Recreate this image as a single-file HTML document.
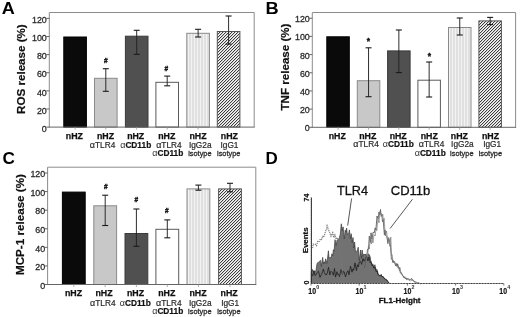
<!DOCTYPE html>
<html><head><meta charset="utf-8"><style>
html,body{margin:0;padding:0;background:#fff;}
svg{display:block;font-family:"Liberation Sans", sans-serif;will-change:transform;}
</style></head><body>
<svg width="520" height="317" viewBox="0 0 520 317">
<rect width="520" height="317" fill="#fff"/>
<defs>
<pattern id="vstripe" patternUnits="userSpaceOnUse" x="0" y="0" width="3" height="3"><rect width="3" height="3" fill="#e0e0e0"/><rect x="2" width="1" height="3" fill="#f3f3f3"/></pattern>
<pattern id="hatch" patternUnits="userSpaceOnUse" x="0" y="0" width="3" height="3" shape-rendering="crispEdges"><rect width="3" height="3" fill="#f6f6f6"/><rect x="0" y="2" width="1" height="1" fill="#3c3c3c"/><rect x="1" y="1" width="1" height="1" fill="#3c3c3c"/><rect x="2" y="0" width="1" height="1" fill="#3c3c3c"/><rect x="0" y="0" width="1" height="1" fill="#d2d2d2"/><rect x="1" y="2" width="1" height="1" fill="#d2d2d2"/><rect x="2" y="1" width="1" height="1" fill="#d2d2d2"/></pattern>
</defs>
<path d="M49.30,127.10 V12.50 H254.20 V127.10" fill="none" stroke="#8c8c8c" stroke-width="1"/>
<rect x="63.80" y="37.00" width="22.60" height="90.10" fill="#0a0a0a" stroke="#000" stroke-width="1"/>
<rect x="94.50" y="78.30" width="22.60" height="48.80" fill="#c8c8c8" stroke="#8a8a8a" stroke-width="1"/>
<rect x="125.40" y="36.20" width="22.60" height="90.90" fill="#505050" stroke="#3a3a3a" stroke-width="1"/>
<rect x="155.90" y="82.30" width="22.60" height="44.80" fill="#ffffff" stroke="#5a5a5a" stroke-width="1"/>
<rect x="186.80" y="33.30" width="22.60" height="93.80" fill="url(#vstripe)" stroke="#8a8a8a" stroke-width="1"/>
<rect x="217.30" y="31.50" width="22.60" height="95.60" fill="url(#hatch)" stroke="#555" stroke-width="1"/>
<line x1="105.80" y1="68.70" x2="105.80" y2="91.30" stroke="#222" stroke-width="0.95" />
<line x1="102.80" y1="68.70" x2="108.80" y2="68.70" stroke="#1a1a1a" stroke-width="1.1" />
<line x1="102.80" y1="91.30" x2="108.80" y2="91.30" stroke="#1a1a1a" stroke-width="1.1" />
<line x1="136.70" y1="30.30" x2="136.70" y2="54.30" stroke="#222" stroke-width="0.95" />
<line x1="133.70" y1="30.30" x2="139.70" y2="30.30" stroke="#1a1a1a" stroke-width="1.1" />
<line x1="133.70" y1="54.30" x2="139.70" y2="54.30" stroke="#1a1a1a" stroke-width="1.1" />
<line x1="167.20" y1="76.10" x2="167.20" y2="85.80" stroke="#222" stroke-width="0.95" />
<line x1="164.20" y1="76.10" x2="170.20" y2="76.10" stroke="#1a1a1a" stroke-width="1.1" />
<line x1="164.20" y1="85.80" x2="170.20" y2="85.80" stroke="#1a1a1a" stroke-width="1.1" />
<line x1="198.10" y1="29.30" x2="198.10" y2="37.00" stroke="#222" stroke-width="0.95" />
<line x1="195.10" y1="29.30" x2="201.10" y2="29.30" stroke="#1a1a1a" stroke-width="1.1" />
<line x1="195.10" y1="37.00" x2="201.10" y2="37.00" stroke="#1a1a1a" stroke-width="1.1" />
<line x1="228.60" y1="16.00" x2="228.60" y2="44.10" stroke="#222" stroke-width="0.95" />
<line x1="225.60" y1="16.00" x2="231.60" y2="16.00" stroke="#1a1a1a" stroke-width="1.1" />
<line x1="225.60" y1="44.10" x2="231.60" y2="44.10" stroke="#1a1a1a" stroke-width="1.1" />
<line x1="48.80" y1="127.10" x2="254.70" y2="127.10" stroke="#666" stroke-width="1" />
<line x1="75.10" y1="127.10" x2="75.10" y2="129.60" stroke="#999" stroke-width="0.8" />
<line x1="105.80" y1="127.10" x2="105.80" y2="129.60" stroke="#999" stroke-width="0.8" />
<line x1="136.70" y1="127.10" x2="136.70" y2="129.60" stroke="#999" stroke-width="0.8" />
<line x1="167.20" y1="127.10" x2="167.20" y2="129.60" stroke="#999" stroke-width="0.8" />
<line x1="198.10" y1="127.10" x2="198.10" y2="129.60" stroke="#999" stroke-width="0.8" />
<line x1="228.60" y1="127.10" x2="228.60" y2="129.60" stroke="#999" stroke-width="0.8" />
<line x1="46.30" y1="127.10" x2="49.30" y2="127.10" stroke="#666" stroke-width="1" />
<text x="46.80" y="131.80" font-size="8.9" font-weight="normal" fill="#2a2a2a" text-anchor="end" stroke="#2a2a2a" stroke-width="0.28">0</text>
<line x1="46.30" y1="108.98" x2="49.30" y2="108.98" stroke="#666" stroke-width="1" />
<text x="46.80" y="113.68" font-size="8.9" font-weight="normal" fill="#2a2a2a" text-anchor="end" stroke="#2a2a2a" stroke-width="0.28">20</text>
<line x1="46.30" y1="90.86" x2="49.30" y2="90.86" stroke="#666" stroke-width="1" />
<text x="46.80" y="95.56" font-size="8.9" font-weight="normal" fill="#2a2a2a" text-anchor="end" stroke="#2a2a2a" stroke-width="0.28">40</text>
<line x1="46.30" y1="72.74" x2="49.30" y2="72.74" stroke="#666" stroke-width="1" />
<text x="46.80" y="77.44" font-size="8.9" font-weight="normal" fill="#2a2a2a" text-anchor="end" stroke="#2a2a2a" stroke-width="0.28">60</text>
<line x1="46.30" y1="54.62" x2="49.30" y2="54.62" stroke="#666" stroke-width="1" />
<text x="46.80" y="59.32" font-size="8.9" font-weight="normal" fill="#2a2a2a" text-anchor="end" stroke="#2a2a2a" stroke-width="0.28">80</text>
<line x1="46.30" y1="36.50" x2="49.30" y2="36.50" stroke="#666" stroke-width="1" />
<text x="46.80" y="41.20" font-size="8.9" font-weight="normal" fill="#2a2a2a" text-anchor="end" stroke="#2a2a2a" stroke-width="0.28">100</text>
<line x1="46.30" y1="18.38" x2="49.30" y2="18.38" stroke="#666" stroke-width="1" />
<text x="46.80" y="23.08" font-size="8.9" font-weight="normal" fill="#2a2a2a" text-anchor="end" stroke="#2a2a2a" stroke-width="0.28">120</text>
<text transform="translate(24.80,113.90) rotate(-90)" x="0" y="0" font-size="11.6" font-weight="bold" fill="#111" stroke="#111" stroke-width="0.2">ROS release (%)</text>
<text x="105.80" y="62.60" font-size="6.5" font-weight="bold" fill="#111" text-anchor="middle" stroke="#111" stroke-width="0.35">#</text>
<text x="166.40" y="70.80" font-size="6.5" font-weight="bold" fill="#111" text-anchor="middle" stroke="#111" stroke-width="0.35">#</text>
<path d="M312.30,127.30 V12.50 H515.60 V127.30" fill="none" stroke="#8c8c8c" stroke-width="1"/>
<rect x="326.80" y="36.80" width="22.50" height="90.50" fill="#0a0a0a" stroke="#000" stroke-width="1"/>
<rect x="357.30" y="80.70" width="22.50" height="46.60" fill="#c8c8c8" stroke="#8a8a8a" stroke-width="1"/>
<rect x="387.60" y="50.90" width="22.50" height="76.40" fill="#505050" stroke="#3a3a3a" stroke-width="1"/>
<rect x="417.90" y="80.20" width="22.50" height="47.10" fill="#ffffff" stroke="#5a5a5a" stroke-width="1"/>
<rect x="448.50" y="27.50" width="22.50" height="99.80" fill="url(#vstripe)" stroke="#8a8a8a" stroke-width="1"/>
<rect x="478.90" y="20.90" width="22.50" height="106.40" fill="url(#hatch)" stroke="#555" stroke-width="1"/>
<line x1="368.55" y1="47.80" x2="368.55" y2="96.70" stroke="#222" stroke-width="0.95" />
<line x1="365.55" y1="47.80" x2="371.55" y2="47.80" stroke="#1a1a1a" stroke-width="1.1" />
<line x1="365.55" y1="96.70" x2="371.55" y2="96.70" stroke="#1a1a1a" stroke-width="1.1" />
<line x1="398.85" y1="30.00" x2="398.85" y2="72.60" stroke="#222" stroke-width="0.95" />
<line x1="395.85" y1="30.00" x2="401.85" y2="30.00" stroke="#1a1a1a" stroke-width="1.1" />
<line x1="395.85" y1="72.60" x2="401.85" y2="72.60" stroke="#1a1a1a" stroke-width="1.1" />
<line x1="429.15" y1="62.00" x2="429.15" y2="97.00" stroke="#222" stroke-width="0.95" />
<line x1="426.15" y1="62.00" x2="432.15" y2="62.00" stroke="#1a1a1a" stroke-width="1.1" />
<line x1="426.15" y1="97.00" x2="432.15" y2="97.00" stroke="#1a1a1a" stroke-width="1.1" />
<line x1="459.75" y1="18.00" x2="459.75" y2="35.00" stroke="#222" stroke-width="0.95" />
<line x1="456.75" y1="18.00" x2="462.75" y2="18.00" stroke="#1a1a1a" stroke-width="1.1" />
<line x1="456.75" y1="35.00" x2="462.75" y2="35.00" stroke="#1a1a1a" stroke-width="1.1" />
<line x1="490.15" y1="17.40" x2="490.15" y2="24.60" stroke="#222" stroke-width="0.95" />
<line x1="487.15" y1="17.40" x2="493.15" y2="17.40" stroke="#1a1a1a" stroke-width="1.1" />
<line x1="487.15" y1="24.60" x2="493.15" y2="24.60" stroke="#1a1a1a" stroke-width="1.1" />
<line x1="311.80" y1="127.30" x2="516.10" y2="127.30" stroke="#666" stroke-width="1" />
<line x1="338.05" y1="127.30" x2="338.05" y2="129.80" stroke="#999" stroke-width="0.8" />
<line x1="368.55" y1="127.30" x2="368.55" y2="129.80" stroke="#999" stroke-width="0.8" />
<line x1="398.85" y1="127.30" x2="398.85" y2="129.80" stroke="#999" stroke-width="0.8" />
<line x1="429.15" y1="127.30" x2="429.15" y2="129.80" stroke="#999" stroke-width="0.8" />
<line x1="459.75" y1="127.30" x2="459.75" y2="129.80" stroke="#999" stroke-width="0.8" />
<line x1="490.15" y1="127.30" x2="490.15" y2="129.80" stroke="#999" stroke-width="0.8" />
<line x1="309.30" y1="127.30" x2="312.30" y2="127.30" stroke="#666" stroke-width="1" />
<text x="309.80" y="131.30" font-size="8.9" font-weight="normal" fill="#2a2a2a" text-anchor="end" stroke="#2a2a2a" stroke-width="0.28">0</text>
<line x1="309.30" y1="109.12" x2="312.30" y2="109.12" stroke="#666" stroke-width="1" />
<text x="309.80" y="113.12" font-size="8.9" font-weight="normal" fill="#2a2a2a" text-anchor="end" stroke="#2a2a2a" stroke-width="0.28">20</text>
<line x1="309.30" y1="90.94" x2="312.30" y2="90.94" stroke="#666" stroke-width="1" />
<text x="309.80" y="94.94" font-size="8.9" font-weight="normal" fill="#2a2a2a" text-anchor="end" stroke="#2a2a2a" stroke-width="0.28">40</text>
<line x1="309.30" y1="72.76" x2="312.30" y2="72.76" stroke="#666" stroke-width="1" />
<text x="309.80" y="76.76" font-size="8.9" font-weight="normal" fill="#2a2a2a" text-anchor="end" stroke="#2a2a2a" stroke-width="0.28">60</text>
<line x1="309.30" y1="54.58" x2="312.30" y2="54.58" stroke="#666" stroke-width="1" />
<text x="309.80" y="58.58" font-size="8.9" font-weight="normal" fill="#2a2a2a" text-anchor="end" stroke="#2a2a2a" stroke-width="0.28">80</text>
<line x1="309.30" y1="36.40" x2="312.30" y2="36.40" stroke="#666" stroke-width="1" />
<text x="309.80" y="40.40" font-size="8.9" font-weight="normal" fill="#2a2a2a" text-anchor="end" stroke="#2a2a2a" stroke-width="0.28">100</text>
<line x1="309.30" y1="18.22" x2="312.30" y2="18.22" stroke="#666" stroke-width="1" />
<text x="309.80" y="22.22" font-size="8.9" font-weight="normal" fill="#2a2a2a" text-anchor="end" stroke="#2a2a2a" stroke-width="0.28">120</text>
<text transform="translate(288.60,110.50) rotate(-90)" x="0" y="0" font-size="11.6" font-weight="bold" fill="#111" stroke="#111" stroke-width="0.2">TNF release (%)</text>
<text x="368.30" y="44.30" font-size="8.5" font-weight="bold" fill="#111" text-anchor="middle" stroke="#111" stroke-width="0.35">*</text>
<text x="429.50" y="59.30" font-size="8.5" font-weight="bold" fill="#111" text-anchor="middle" stroke="#111" stroke-width="0.35">*</text>
<path d="M47.60,284.50 V167.20 H255.80 V284.50" fill="none" stroke="#8c8c8c" stroke-width="1"/>
<rect x="62.40" y="192.10" width="22.80" height="92.40" fill="#0a0a0a" stroke="#000" stroke-width="1"/>
<rect x="93.80" y="205.80" width="22.80" height="78.70" fill="#c8c8c8" stroke="#8a8a8a" stroke-width="1"/>
<rect x="125.00" y="233.50" width="22.80" height="51.00" fill="#505050" stroke="#3a3a3a" stroke-width="1"/>
<rect x="155.90" y="229.30" width="22.80" height="55.20" fill="#ffffff" stroke="#5a5a5a" stroke-width="1"/>
<rect x="187.00" y="188.90" width="22.80" height="95.60" fill="url(#vstripe)" stroke="#8a8a8a" stroke-width="1"/>
<rect x="218.60" y="188.90" width="22.80" height="95.60" fill="url(#hatch)" stroke="#555" stroke-width="1"/>
<line x1="105.20" y1="195.20" x2="105.20" y2="225.50" stroke="#222" stroke-width="0.95" />
<line x1="102.20" y1="195.20" x2="108.20" y2="195.20" stroke="#1a1a1a" stroke-width="1.1" />
<line x1="102.20" y1="225.50" x2="108.20" y2="225.50" stroke="#1a1a1a" stroke-width="1.1" />
<line x1="136.40" y1="209.00" x2="136.40" y2="246.30" stroke="#222" stroke-width="0.95" />
<line x1="133.40" y1="209.00" x2="139.40" y2="209.00" stroke="#1a1a1a" stroke-width="1.1" />
<line x1="133.40" y1="246.30" x2="139.40" y2="246.30" stroke="#1a1a1a" stroke-width="1.1" />
<line x1="167.30" y1="219.90" x2="167.30" y2="237.80" stroke="#222" stroke-width="0.95" />
<line x1="164.30" y1="219.90" x2="170.30" y2="219.90" stroke="#1a1a1a" stroke-width="1.1" />
<line x1="164.30" y1="237.80" x2="170.30" y2="237.80" stroke="#1a1a1a" stroke-width="1.1" />
<line x1="198.40" y1="185.10" x2="198.40" y2="190.20" stroke="#222" stroke-width="0.95" />
<line x1="195.40" y1="185.10" x2="201.40" y2="185.10" stroke="#1a1a1a" stroke-width="1.1" />
<line x1="195.40" y1="190.20" x2="201.40" y2="190.20" stroke="#1a1a1a" stroke-width="1.1" />
<line x1="230.00" y1="183.30" x2="230.00" y2="191.80" stroke="#222" stroke-width="0.95" />
<line x1="227.00" y1="183.30" x2="233.00" y2="183.30" stroke="#1a1a1a" stroke-width="1.1" />
<line x1="227.00" y1="191.80" x2="233.00" y2="191.80" stroke="#1a1a1a" stroke-width="1.1" />
<line x1="47.10" y1="284.50" x2="256.30" y2="284.50" stroke="#666" stroke-width="1" />
<line x1="73.80" y1="284.50" x2="73.80" y2="287.00" stroke="#999" stroke-width="0.8" />
<line x1="105.20" y1="284.50" x2="105.20" y2="287.00" stroke="#999" stroke-width="0.8" />
<line x1="136.40" y1="284.50" x2="136.40" y2="287.00" stroke="#999" stroke-width="0.8" />
<line x1="167.30" y1="284.50" x2="167.30" y2="287.00" stroke="#999" stroke-width="0.8" />
<line x1="198.40" y1="284.50" x2="198.40" y2="287.00" stroke="#999" stroke-width="0.8" />
<line x1="230.00" y1="284.50" x2="230.00" y2="287.00" stroke="#999" stroke-width="0.8" />
<line x1="44.60" y1="284.50" x2="47.60" y2="284.50" stroke="#666" stroke-width="1" />
<text x="45.20" y="288.70" font-size="8.9" font-weight="normal" fill="#2a2a2a" text-anchor="end" stroke="#2a2a2a" stroke-width="0.28">0</text>
<line x1="44.60" y1="265.92" x2="47.60" y2="265.92" stroke="#666" stroke-width="1" />
<text x="45.20" y="270.12" font-size="8.9" font-weight="normal" fill="#2a2a2a" text-anchor="end" stroke="#2a2a2a" stroke-width="0.28">20</text>
<line x1="44.60" y1="247.34" x2="47.60" y2="247.34" stroke="#666" stroke-width="1" />
<text x="45.20" y="251.54" font-size="8.9" font-weight="normal" fill="#2a2a2a" text-anchor="end" stroke="#2a2a2a" stroke-width="0.28">40</text>
<line x1="44.60" y1="228.76" x2="47.60" y2="228.76" stroke="#666" stroke-width="1" />
<text x="45.20" y="232.96" font-size="8.9" font-weight="normal" fill="#2a2a2a" text-anchor="end" stroke="#2a2a2a" stroke-width="0.28">60</text>
<line x1="44.60" y1="210.18" x2="47.60" y2="210.18" stroke="#666" stroke-width="1" />
<text x="45.20" y="214.38" font-size="8.9" font-weight="normal" fill="#2a2a2a" text-anchor="end" stroke="#2a2a2a" stroke-width="0.28">80</text>
<line x1="44.60" y1="191.60" x2="47.60" y2="191.60" stroke="#666" stroke-width="1" />
<text x="45.20" y="195.80" font-size="8.9" font-weight="normal" fill="#2a2a2a" text-anchor="end" stroke="#2a2a2a" stroke-width="0.28">100</text>
<line x1="44.60" y1="173.02" x2="47.60" y2="173.02" stroke="#666" stroke-width="1" />
<text x="45.20" y="177.22" font-size="8.9" font-weight="normal" fill="#2a2a2a" text-anchor="end" stroke="#2a2a2a" stroke-width="0.28">120</text>
<text transform="translate(23.90,275.00) rotate(-90)" x="0" y="0" font-size="11.65" font-weight="bold" fill="#111" stroke="#111" stroke-width="0.2">MCP-1 release (%)</text>
<text x="105.70" y="189.20" font-size="6.5" font-weight="bold" fill="#111" text-anchor="middle" stroke="#111" stroke-width="0.35">#</text>
<text x="136.20" y="202.40" font-size="6.5" font-weight="bold" fill="#111" text-anchor="middle" stroke="#111" stroke-width="0.35">#</text>
<text x="166.90" y="213.00" font-size="6.5" font-weight="bold" fill="#111" text-anchor="middle" stroke="#111" stroke-width="0.35">#</text>
<text x="74.40" y="138.90" font-size="8.8" font-weight="bold" fill="#111" stroke="#111" stroke-width="0.25" text-anchor="middle">nHZ</text>
<text x="105.50" y="138.90" font-size="8.8" font-weight="bold" fill="#111" stroke="#111" stroke-width="0.25" text-anchor="middle">nHZ</text>
<text x="102.60" y="147.70" font-size="8.3" fill="#2a2a2a" stroke="#2a2a2a" stroke-width="0.2" text-anchor="middle"><tspan font-size="9" fill="#333">α</tspan>TLR4</text>
<text x="135.70" y="138.90" font-size="8.8" font-weight="bold" fill="#111" stroke="#111" stroke-width="0.25" text-anchor="middle">nHZ</text>
<text x="135.70" y="147.70" font-size="8.3" text-anchor="middle" stroke-width="0.2"><tspan font-size="9" fill="#333">α</tspan><tspan font-weight="bold" fill="#111" stroke="#111">CD11b</tspan></text>
<text x="166.80" y="138.90" font-size="8.8" font-weight="bold" fill="#111" stroke="#111" stroke-width="0.25" text-anchor="middle">nHZ</text>
<text x="168.90" y="147.70" font-size="8.3" fill="#2a2a2a" stroke="#2a2a2a" stroke-width="0.2" text-anchor="middle"><tspan font-size="9" fill="#333">α</tspan>TLR4</text>
<text x="167.80" y="155.60" font-size="8.3" text-anchor="middle" stroke-width="0.2"><tspan font-size="9" fill="#333">α</tspan><tspan font-weight="bold" fill="#111" stroke="#111">CD11b</tspan></text>
<text x="198.00" y="138.90" font-size="8.8" font-weight="bold" fill="#111" stroke="#111" stroke-width="0.25" text-anchor="middle">nHZ</text>
<text x="200.20" y="147.70" font-size="8.3" fill="#2a2a2a" stroke="#2a2a2a" stroke-width="0.2" text-anchor="middle">IgG2a</text>
<text textLength="23.4" lengthAdjust="spacingAndGlyphs" x="199.90" y="155.60" font-size="8.0" fill="#2a2a2a" stroke="#2a2a2a" stroke-width="0.3" text-anchor="middle">isotype</text>
<text x="229.40" y="138.90" font-size="8.8" font-weight="bold" fill="#111" stroke="#111" stroke-width="0.25" text-anchor="middle">nHZ</text>
<text x="229.50" y="147.70" font-size="8.3" fill="#2a2a2a" stroke="#2a2a2a" stroke-width="0.2" text-anchor="middle">IgG1</text>
<text textLength="23.4" lengthAdjust="spacingAndGlyphs" x="228.70" y="155.60" font-size="8.0" fill="#2a2a2a" stroke="#2a2a2a" stroke-width="0.3" text-anchor="middle">isotype</text>
<text x="337.30" y="138.60" font-size="8.8" font-weight="bold" fill="#111" stroke="#111" stroke-width="0.25" text-anchor="middle">nHZ</text>
<text x="367.80" y="138.60" font-size="8.8" font-weight="bold" fill="#111" stroke="#111" stroke-width="0.25" text-anchor="middle">nHZ</text>
<text x="366.10" y="147.20" font-size="8.3" fill="#2a2a2a" stroke="#2a2a2a" stroke-width="0.2" text-anchor="middle"><tspan font-size="9" fill="#333">α</tspan>TLR4</text>
<text x="398.20" y="138.60" font-size="8.8" font-weight="bold" fill="#111" stroke="#111" stroke-width="0.25" text-anchor="middle">nHZ</text>
<text x="398.30" y="147.20" font-size="8.3" text-anchor="middle" stroke-width="0.2"><tspan font-size="9" fill="#333">α</tspan><tspan font-weight="bold" fill="#111" stroke="#111">CD11b</tspan></text>
<text x="429.30" y="138.60" font-size="8.8" font-weight="bold" fill="#111" stroke="#111" stroke-width="0.25" text-anchor="middle">nHZ</text>
<text x="431.60" y="147.20" font-size="8.3" fill="#2a2a2a" stroke="#2a2a2a" stroke-width="0.2" text-anchor="middle"><tspan font-size="9" fill="#333">α</tspan>TLR4</text>
<text x="430.20" y="155.70" font-size="8.3" text-anchor="middle" stroke-width="0.2"><tspan font-size="9" fill="#333">α</tspan><tspan font-weight="bold" fill="#111" stroke="#111">CD11b</tspan></text>
<text x="459.40" y="138.60" font-size="8.8" font-weight="bold" fill="#111" stroke="#111" stroke-width="0.25" text-anchor="middle">nHZ</text>
<text x="462.40" y="147.20" font-size="8.3" fill="#2a2a2a" stroke="#2a2a2a" stroke-width="0.2" text-anchor="middle">IgG2a</text>
<text textLength="23.4" lengthAdjust="spacingAndGlyphs" x="461.80" y="155.70" font-size="8.0" fill="#2a2a2a" stroke="#2a2a2a" stroke-width="0.3" text-anchor="middle">isotype</text>
<text x="490.50" y="138.60" font-size="8.8" font-weight="bold" fill="#111" stroke="#111" stroke-width="0.25" text-anchor="middle">nHZ</text>
<text x="492.20" y="147.20" font-size="8.3" fill="#2a2a2a" stroke="#2a2a2a" stroke-width="0.2" text-anchor="middle">IgG1</text>
<text textLength="23.4" lengthAdjust="spacingAndGlyphs" x="490.40" y="155.70" font-size="8.0" fill="#2a2a2a" stroke="#2a2a2a" stroke-width="0.3" text-anchor="middle">isotype</text>
<text x="73.50" y="296.00" font-size="8.8" font-weight="bold" fill="#111" stroke="#111" stroke-width="0.25" text-anchor="middle">nHZ</text>
<text x="104.00" y="296.00" font-size="8.8" font-weight="bold" fill="#111" stroke="#111" stroke-width="0.25" text-anchor="middle">nHZ</text>
<text x="102.80" y="306.00" font-size="8.3" fill="#2a2a2a" stroke="#2a2a2a" stroke-width="0.2" text-anchor="middle"><tspan font-size="9" fill="#333">α</tspan>TLR4</text>
<text x="135.50" y="296.00" font-size="8.8" font-weight="bold" fill="#111" stroke="#111" stroke-width="0.25" text-anchor="middle">nHZ</text>
<text x="135.30" y="306.00" font-size="8.3" text-anchor="middle" stroke-width="0.2"><tspan font-size="9" fill="#333">α</tspan><tspan font-weight="bold" fill="#111" stroke="#111">CD11b</tspan></text>
<text x="166.80" y="296.00" font-size="8.8" font-weight="bold" fill="#111" stroke="#111" stroke-width="0.25" text-anchor="middle">nHZ</text>
<text x="168.80" y="306.00" font-size="8.3" fill="#2a2a2a" stroke="#2a2a2a" stroke-width="0.2" text-anchor="middle"><tspan font-size="9" fill="#333">α</tspan>TLR4</text>
<text x="167.70" y="313.70" font-size="8.3" text-anchor="middle" stroke-width="0.2"><tspan font-size="9" fill="#333">α</tspan><tspan font-weight="bold" fill="#111" stroke="#111">CD11b</tspan></text>
<text x="198.00" y="296.00" font-size="8.8" font-weight="bold" fill="#111" stroke="#111" stroke-width="0.25" text-anchor="middle">nHZ</text>
<text x="200.20" y="306.00" font-size="8.3" fill="#2a2a2a" stroke="#2a2a2a" stroke-width="0.2" text-anchor="middle">IgG2a</text>
<text textLength="23.4" lengthAdjust="spacingAndGlyphs" x="199.80" y="313.70" font-size="8.0" fill="#2a2a2a" stroke="#2a2a2a" stroke-width="0.3" text-anchor="middle">isotype</text>
<text x="229.10" y="296.00" font-size="8.8" font-weight="bold" fill="#111" stroke="#111" stroke-width="0.25" text-anchor="middle">nHZ</text>
<text x="230.20" y="306.00" font-size="8.3" fill="#2a2a2a" stroke="#2a2a2a" stroke-width="0.2" text-anchor="middle">IgG1</text>
<text textLength="23.4" lengthAdjust="spacingAndGlyphs" x="228.90" y="313.70" font-size="8.0" fill="#2a2a2a" stroke="#2a2a2a" stroke-width="0.3" text-anchor="middle">isotype</text>
<path d="M311.2,283.5 L311.3,272.0 L312.1,269.1 L312.8,271.8 L314.0,270.4 L315.0,271.6 L316.0,270.4 L317.1,263.3 L318.5,262.2 L319.9,261.0 L320.6,260.4 L321.3,266.4 L322.7,257.4 L323.4,263.9 L324.2,261.7 L324.9,263.7 L325.6,258.8 L327.0,263.3 L328.4,250.8 L329.1,258.5 L329.8,257.4 L331.2,257.8 L331.9,253.8 L332.7,255.9 L333.4,249.7 L334.1,251.2 L335.0,239.7 L336.2,245.5 L337.1,239.8 L338.2,240.3 L339.3,237.7 L340.3,234.3 L341.3,223.8 L342.2,230.5 L343.1,226.9 L344.3,238.8 L345.2,230.2 L345.9,232.1 L346.6,228.0 L347.4,234.7 L348.1,233.8 L348.8,232.9 L349.4,229.9 L350.5,238.7 L351.2,233.7 L352.2,242.8 L353.0,237.5 L353.8,248.0 L354.6,242.0 L355.5,251.9 L356.5,251.2 L357.3,251.2 L358.2,247.2 L359.3,260.7 L360.5,250.0 L361.5,258.2 L362.1,250.0 L363.0,256.7 L363.8,254.1 L365.0,254.8 L366.0,254.0 L367.0,260.3 L368.2,253.9 L369.3,254.6 L370.2,257.0 L371.0,263.3 L372.1,263.6 L373.5,267.6 L374.9,264.7 L376.0,269.8 L377.1,269.5 L378.2,274.1 L379.3,275.5 L380.5,275.7 L381.2,274.2 L382.0,277.3 L383.2,276.7 L384.3,278.9 L385.1,278.6 L386.0,280.1 L386.8,279.9 L387.6,281.5 L388.4,282.0 L389.2,283.5 Z" fill="#727272" stroke="#3a3a3a" stroke-width="0.7" stroke-linejoin="miter" stroke-miterlimit="3"/>
<path d="M311.5,274.2 L312.8,275.7 L314.0,270.9 L314.9,275.3 L315.7,275.2 L317.0,272.6 L318.5,271.2 L320.0,277.4 L321.3,274.8 L322.5,272.1 L323.4,269.0 L324.2,272.3 L325.5,274.8 L327.0,274.3 L328.5,267.3 L329.8,275.0 L330.6,271.6 L331.5,271.6 L332.4,272.4 L333.4,275.3 L334.5,268.4 L335.5,277.1 L337.0,271.7 L337.8,274.7 L338.7,274.3 L339.5,276.7 L341.0,269.6 L342.5,274.5 L343.4,271.3 L344.2,271.9 L345.5,276.9 L347.0,272.1 L348.0,270.7 L349.0,274.8 L350.5,266.1 L352.0,272.2 L352.9,268.9 L353.7,270.3 L355.0,262.9 L356.5,270.6 L357.4,264.8 L358.4,266.9 L359.2,262.0 L360.0,262.1 L360.8,261.6 L361.6,264.4 L363.0,258.4 L363.9,261.2 L364.8,260.0 L366.0,257.4 L366.9,256.9 L367.9,261.0 L369.0,257.0 L370.3,262.9 L371.2,261.6 L372.1,265.8 L373.0,264.5 L374.0,268.4 L374.9,267.2 L376.0,271.6 L377.1,271.1 L378.2,274.9 L379.3,275.0 L380.2,276.2 L381.1,275.1 L382.0,276.5 L383.1,276.5 L384.3,278.4 L385.1,278.7 L386.0,279.8 L386.8,279.8 L387.6,281.1 L389.2,283.3" fill="none" stroke="#1a1a1a" stroke-width="0.75" stroke-linejoin="round"/>
<path d="M312.5,248.0 L313.3,244.1 L315.0,244.0 L316.6,245.5 L317.7,241.6 L318.8,242.0 L320.5,238.9 L321.6,239.4 L322.7,236.4 L323.8,237.1 L325.5,231.4 L326.6,228.7 L327.1,224.3 L328.2,229.8 L329.3,231.3 L331.0,236.1 L332.7,232.8 L333.8,237.6 L334.9,235.0 L336.0,238.3 L337.1,237.7 L338.1,241.4 L339.0,242.7 L340.5,253.0 L341.5,261.6 L342.5,272.4 L343.5,283.0" fill="none" stroke="#777" stroke-width="1.3" stroke-dasharray="1,0.9"/>
<path d="M364.5,268.0 L365.2,264.2 L366.0,257.2 L366.8,255.9 L367.5,249.3 L368.5,249.3 L369.3,236.1 L370.4,242.3 L371.0,232.8 L372.0,238.9 L373.1,232.2 L374.3,232.8 L375.1,227.9 L375.9,229.9 L377.0,216.0 L378.1,218.8 L379.0,212.0 L379.8,215.0 L380.5,209.5 L381.2,216.4 L381.9,214.9 L382.5,221.6 L383.2,220.2 L384.4,234.8 L385.0,229.9 L385.7,235.6 L386.9,236.3 L387.8,242.8 L388.8,238.5 L389.9,242.3 L390.6,247.8 L391.4,259.3 L392.1,258.6 L392.8,262.3 L393.5,260.6 L394.2,263.0 L394.9,262.5 L395.6,266.0 L396.3,263.4 L397.0,266.3 L397.7,263.8 L398.4,268.4 L399.1,267.3 L400.3,272.8 L401.3,272.7 L402.5,275.6 L403.4,276.1 L404.1,277.9 L404.8,276.7 L405.5,278.7 L406.2,277.9 L406.8,279.4 L407.4,278.5 L408.0,279.4 L408.6,278.6 L409.2,279.7 L409.8,279.3 L410.6,279.5 L411.5,278.4 L412.1,280.0 L412.7,279.5 L413.3,280.9 L414.1,280.9 L414.8,282.0 L415.5,281.8 L416.2,282.3 L416.9,282.3 L417.6,282.7 L418.4,282.7 L419.2,283.1 L420.0,283.3" fill="none" stroke="#555" stroke-width="0.85" stroke-linejoin="miter" stroke-miterlimit="4"/>
<path d="M365.4,269.2 L366.1,265.3 L366.9,257.3 L367.6,257.1 L368.4,246.6 L369.4,249.0 L370.2,237.9 L371.3,243.9 L371.9,235.2 L372.9,243.0 L374.0,234.6 L375.2,236.0 L376.0,228.6 L376.8,230.6 L377.9,218.9 L379.0,222.9 L379.9,211.6 L380.7,213.6 L381.4,213.5 L382.1,215.9 L382.8,214.1 L383.4,222.1 L384.1,218.2 L385.3,235.9 L386.6,231.1 L387.8,244.0 L388.7,237.4 L389.7,246.2 L390.8,237.1 L391.5,255.6 L392.2,254.7 L393.0,262.8 L394.4,261.1 L395.8,265.9 L396.5,263.9 L397.2,267.2 L398.6,265.9 L399.3,270.4 L400.0,267.6 L401.2,274.1 L402.2,274.1 L403.4,277.0 L404.3,277.4 L405.0,278.7 L405.7,278.2 L406.4,279.6 L407.1,279.3 L407.8,280.0 L408.5,279.7 L409.3,280.6 L410.0,280.3 L410.7,281.2 L411.5,280.3 L412.4,280.4 L413.3,280.6 L414.2,281.7 L414.9,282.2 L415.7,283.0 L416.4,283.2 L417.1,283.4 L417.8,283.5 L418.5,283.5 L419.3,283.5 L420.1,283.5 L420.9,284.5" fill="none" stroke="#777" stroke-width="0.7" stroke-linejoin="miter" stroke-miterlimit="4"/>
<line x1="311.4" y1="197.5" x2="311.4" y2="283.6" stroke="#2a2a2a" stroke-width="1"/>
<line x1="310.4" y1="197.5" x2="310.4" y2="283.6" stroke="#888" stroke-width="0.6" stroke-dasharray="0.6,1.4"/>
<line x1="311" y1="283.5" x2="503.8" y2="283.5" stroke="#999" stroke-width="1"/>
<line x1="311" y1="283.5" x2="503.8" y2="283.5" stroke="#444" stroke-width="1" stroke-dasharray="1.6,1.2"/>
<line x1="311.0" y1="283.5" x2="311.0" y2="285.6" stroke="#555" stroke-width="0.8"/>
<line x1="359.2" y1="283.5" x2="359.2" y2="285.6" stroke="#555" stroke-width="0.8"/>
<line x1="407.4" y1="283.5" x2="407.4" y2="285.6" stroke="#555" stroke-width="0.8"/>
<line x1="455.6" y1="283.5" x2="455.6" y2="285.6" stroke="#555" stroke-width="0.8"/>
<line x1="503.8" y1="283.5" x2="503.8" y2="285.6" stroke="#555" stroke-width="0.8"/>
<text x="308.3" y="293.6" font-size="8.6" font-weight="bold" fill="#1a1a1a" stroke="#1a1a1a" stroke-width="0.2" textLength="7.8" lengthAdjust="spacingAndGlyphs">10</text>
<text x="316.3" y="288.6" font-size="5.4" font-weight="bold" fill="#333">0</text>
<text x="355.6" y="293.6" font-size="8.6" font-weight="bold" fill="#1a1a1a" stroke="#1a1a1a" stroke-width="0.2" textLength="7.8" lengthAdjust="spacingAndGlyphs">10</text>
<text x="363.6" y="288.6" font-size="5.4" font-weight="bold" fill="#333">1</text>
<text x="403.5" y="293.6" font-size="8.6" font-weight="bold" fill="#1a1a1a" stroke="#1a1a1a" stroke-width="0.2" textLength="7.8" lengthAdjust="spacingAndGlyphs">10</text>
<text x="411.5" y="288.6" font-size="5.4" font-weight="bold" fill="#333">2</text>
<text x="452.1" y="293.6" font-size="8.6" font-weight="bold" fill="#1a1a1a" stroke="#1a1a1a" stroke-width="0.2" textLength="7.8" lengthAdjust="spacingAndGlyphs">10</text>
<text x="460.1" y="288.6" font-size="5.4" font-weight="bold" fill="#333">3</text>
<text x="499.3" y="293.6" font-size="8.6" font-weight="bold" fill="#1a1a1a" stroke="#1a1a1a" stroke-width="0.2" textLength="7.8" lengthAdjust="spacingAndGlyphs">10</text>
<text x="507.3" y="288.6" font-size="5.4" font-weight="bold" fill="#333">4</text>
<text x="399.6" y="302.7" font-size="8" font-weight="bold" fill="#111" stroke="#111" stroke-width="0.3" text-anchor="middle">FL1-Height</text>
<text transform="translate(309.1,197.5) rotate(-90)" x="0" y="0" font-size="7" font-weight="bold" fill="#111" stroke="#111" stroke-width="0.25" text-anchor="middle">74</text>
<text transform="translate(308.7,282.5) rotate(-90)" x="0" y="0" font-size="7" font-weight="bold" fill="#111" stroke="#111" stroke-width="0.25" text-anchor="middle">0</text>
<text transform="translate(307.9,240.4) rotate(-90)" x="0" y="0" font-size="7.9" font-weight="bold" fill="#111" stroke="#111" stroke-width="0.2" text-anchor="middle">Events</text>
<text x="337.0" y="194.9" font-size="12.7" fill="#111" stroke="#111" stroke-width="0.3">TLR4</text>
<text x="390.8" y="194.9" font-size="13" fill="#111" stroke="#111" stroke-width="0.3">CD11b</text>
<line x1="351.6" y1="198.4" x2="347.7" y2="225.5" stroke="#444" stroke-width="0.9"/>
<line x1="412.5" y1="199.2" x2="390.1" y2="228.5" stroke="#444" stroke-width="0.9"/>
<text transform="translate(1.7,13.6) scale(1.16,1)" x="0" y="0" font-size="15.6" font-weight="bold" fill="#000">A</text>
<text transform="translate(265.5,13.9) scale(1.17,1)" x="0" y="0" font-size="15.6" font-weight="bold" fill="#000">B</text>
<text transform="translate(2.45,164.2) scale(1.1,1)" x="0" y="0" font-size="15.6" font-weight="bold" fill="#000">C</text>
<text transform="translate(265.4,164.2) scale(1.09,1)" x="0" y="0" font-size="15.6" font-weight="bold" fill="#000">D</text>
</svg>
</body></html>
